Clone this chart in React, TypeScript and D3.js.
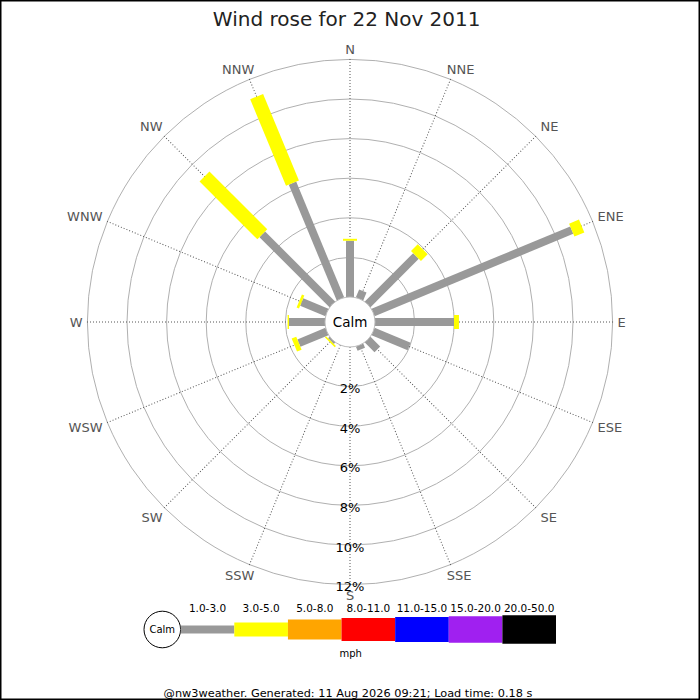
import React from 'react';
import * as d3 from 'd3';

// 16 compass points, clockwise from north
const directions = ['N', 'NNE', 'NE', 'ENE', 'E', 'ESE', 'SE', 'SSE', 'S', 'SSW', 'SW', 'WSW', 'W', 'WNW', 'NW', 'NNW'];

// % of time per direction in each speed band (mph)
const band1to3 = [2.84, 0.43, 3.45, 10.86, 3.99, 1.97, 0.69, 0.23, 0, 0, 0.1, 1.53, 1.82, 1.38, 5.0, 6.33];
const band3to5 = [0.1, 0, 0.48, 0.54, 0.25, 0, 0, 0, 0, 0, 0.08, 0.25, 0.07, 0.13, 4.13, 4.73];

const speedBands = ['1.0-3.0', '3.0-5.0', '5.0-8.0', '8.0-11.0', '11.0-15.0', '15.0-20.0', '20.0-50.0'];
const bandColors = ['#999999', '#ffff00', '#ffa500', '#ff0000', '#0000ff', '#a020f0', '#000000'];
const bandWidths = [8, 14, 20, 23, 25, 26.5, 28.5];

const ringTicks = [2, 4, 6, 8, 10, 12];

const title = 'Wind rose for 22 Nov 2011';
const footer = '@nw3weather. Generated: 11 Aug 2026 09:21; Load time: 0.18 s';

const W = 700;
const H = 700;
const cx = 350;
const cy = 322;
const calmR = 25;
const outerR = 263;
const font = '"DejaVu Sans", sans-serif';

// place a compass label just outside the end of its spoke
const labelPos = (deg: number) => {
  const a = (deg * Math.PI) / 180;
  const s = Math.round(Math.sin(a) * 1000) / 1000;
  const c = Math.round(Math.cos(a) * 1000) / 1000;
  const ex = outerR * s;
  const ey = -outerR * c;
  let anchor: 'start' | 'middle' | 'end' = 'middle';
  let x = ex;
  if (s > 0.5) { anchor = 'start'; x = ex + 4.5; }
  else if (s < -0.5) { anchor = 'end'; x = Math.abs(c) > 0.5 ? ex - 1.5 : ex - 4.5; }
  else if (s > 0) { anchor = 'start'; x = ex - 4; }
  else if (s < 0) { anchor = 'end'; x = ex + 5; }
  let y = ey;
  if (c > 0.5) y = ey - 10;
  else if (c > 0) y = ey - 5;
  else if (c < -0.5) y = ey + 10;
  else if (c < 0) y = ey + 5;
  return { x, y, anchor };
};

const App: React.FC = () => {
  const r = d3.scaleLinear().domain([0, 12]).range([calmR, 262.6]);
  const angle = d3.scaleLinear().domain([0, directions.length]).range([0, 360]);

  const series = [band1to3, band3to5];
  const stack = directions.map((_, i) => {
    let acc = 0;
    return series.map((s, b) => {
      const seg = { b, v0: acc, v1: acc + s[i] };
      acc += s[i];
      return seg;
    });
  });

  const legendX = d3.scaleBand<string>().domain(speedBands).range([180.7, 556]);
  const legendY = 629.5;

  return (
    <svg width={W} height={H} style={{ position: 'absolute', left: 0, top: 0, background: '#fff' }} fontFamily={font}>
      <rect x={0.75} y={0.75} width={W - 1.5} height={H - 1.5} fill="#fff" stroke="#000" strokeWidth={1.5} />

      <text x={346.7} y={26} textAnchor="middle" fontSize={20} fill="#222">
        {title}
      </text>

      <g transform={`translate(${cx},${cy})`}>
        {ringTicks.map((t) => (
          <circle key={t} r={r(t)} fill="none" stroke="#b0b0b0" strokeWidth={1} />
        ))}

        {directions.map((d, i) => (
          <g key={d} transform={`rotate(${angle(i)})`}>
            <line x1={0} y1={-calmR} x2={0} y2={-outerR} stroke="#555" strokeWidth={1} strokeDasharray="1,2" />
          </g>
        ))}

        {stack.map((segs, i) => (
          <g key={directions[i]} transform={`rotate(${angle(i)})`}>
            {segs
              .filter((s) => s.v1 > s.v0)
              .map((s) => (
                <rect
                  key={s.b}
                  x={-bandWidths[s.b] / 2}
                  y={-r(s.v1)}
                  width={bandWidths[s.b]}
                  height={r(s.v1) - r(s.v0)}
                  fill={bandColors[s.b]}
                />
              ))}
          </g>
        ))}

        <circle r={calmR} fill="#fff" stroke="#bbb" strokeWidth={1} />
        <text x={0} y={0} textAnchor="middle" dominantBaseline="central" fontSize={13.5} fill="#000">
          Calm
        </text>

        {ringTicks.map((t) => (
          <text key={t} x={0} y={r(t) + 2} textAnchor="middle" dominantBaseline="central" fontSize={13} fill="#000">
            {`${t}%`}
          </text>
        ))}

        {directions.map((d, i) => {
          const p = labelPos(angle(i));
          return (
            <text key={d} x={p.x} y={p.y} textAnchor={p.anchor} dominantBaseline="central" fontSize={13} fill="#555">
              {d}
            </text>
          );
        })}
      </g>

      <g>
        <circle cx={162.3} cy={legendY} r={18.3} fill="#fff" stroke="#000" strokeWidth={1} />
        <text x={162.3} y={legendY} textAnchor="middle" dominantBaseline="central" fontSize={10} fill="#000">
          Calm
        </text>
        {speedBands.map((b, i) => (
          <g key={b}>
            <rect
              x={legendX(b)}
              y={legendY - bandWidths[i] / 2}
              width={legendX.bandwidth()}
              height={bandWidths[i]}
              fill={bandColors[i]}
            />
            <text
              x={(legendX(b) || 0) + legendX.bandwidth() / 2}
              y={607.5}
              textAnchor="middle"
              dominantBaseline="central"
              fontSize={10.5}
              fill="#000"
            >
              {b}
            </text>
          </g>
        ))}
        <text x={350.7} y={653.5} textAnchor="middle" dominantBaseline="central" fontSize={10} fill="#000">
          mph
        </text>
      </g>

      <text x={348} y={693} textAnchor="middle" dominantBaseline="central" fontSize={11.3} fill="#000">
        {footer}
      </text>
    </svg>
  );
};

export default App;
